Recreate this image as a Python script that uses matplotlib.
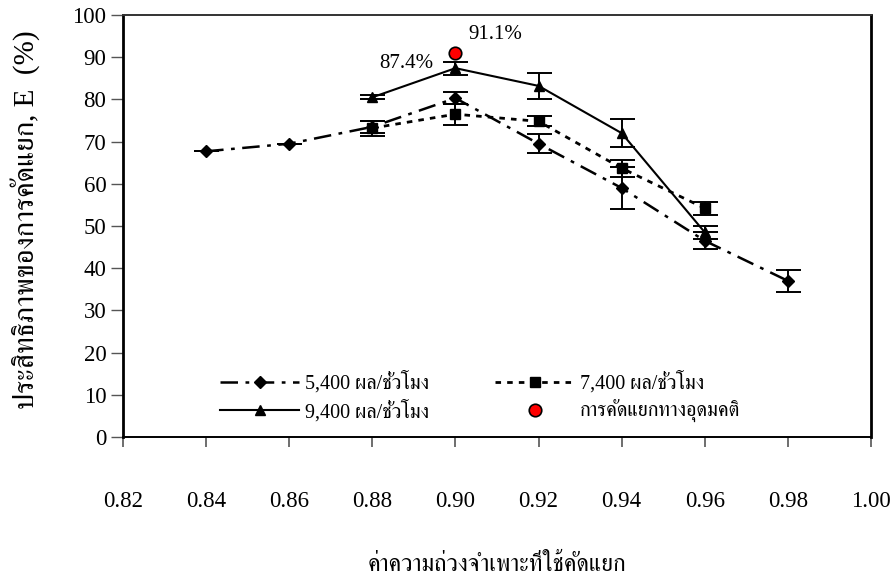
import matplotlib
matplotlib.use("Agg")
import matplotlib.pyplot as plt
from matplotlib.lines import Line2D

plt.rcParams['font.family'] = ['Liberation Serif', 'FreeSerif']

# ---- data ----
sg_5400 = [0.84, 0.86, 0.88, 0.90, 0.92, 0.94, 0.96, 0.98]
eff_5400 = [67.7, 69.5, 73.5, 80.3, 69.5, 59.0, 46.5, 37.0]
err_5400 = [0.0, 0.0, 1.5, 1.5, 2.2, 5.0, 2.0, 2.6]

sg_7400 = [0.88, 0.90, 0.92, 0.94, 0.96]
eff_7400 = [73.2, 76.5, 74.8, 63.7, 54.2]
err_7400 = [1.8, 2.5, 1.2, 2.0, 1.6]

sg_9400 = [0.88, 0.90, 0.92, 0.94, 0.96]
eff_9400 = [80.5, 87.4, 83.2, 72.0, 48.5]
err_9400 = [0.5, 1.5, 3.0, 3.3, 1.5]

sg_ideal = [0.90]
eff_ideal = [91.1]

labels = ["5,400 ผล/ชั่วโมง", "7,400 ผล/ชั่วโมง", "9,400 ผล/ชั่วโมง", "การคัดแยกทางอุดมคติ"]
xticks = [0.82, 0.84, 0.86, 0.88, 0.90, 0.92, 0.94, 0.96, 0.98, 1.00]
yticks = [0, 10, 20, 30, 40, 50, 60, 70, 80, 90, 100]
xlabel = "ค่าความถ่วงจำเพาะที่ใช้คัดแยก"
ylabel = "ประสิทธิภาพของการคัดแยก, E  (%)"

fig = plt.figure(figsize=(8.94, 5.82), dpi=100)
ax = fig.add_axes([123/894, 1-437/582, (871-123)/894, (437-15)/582])

fs = 16.5
eb = dict(capsize=9, elinewidth=1.4, capthick=1.4, ecolor='black')
st1 = dict(color='black', lw=1.8, ls=(0, (7, 3, 1.5, 3)), marker='D', ms=6, mfc='black')
st2 = dict(color='black', lw=2.0, ls=(0, (2, 2.2)), marker='s', ms=7, mfc='black')
st3 = dict(color='black', lw=1.5, ls='-', marker='^', ms=7.5, mfc='black')
st4 = dict(ls='none', marker='o', ms=9, mfc='#ff0000', mec='black', mew=1.2)

ax.errorbar(sg_5400, eff_5400, yerr=err_5400, **st1, **eb)
ax.errorbar(sg_7400, eff_7400, yerr=err_7400, **st2, **eb)
ax.errorbar(sg_9400, eff_9400, yerr=err_9400, **st3, **eb)
ax.plot(sg_ideal, eff_ideal, **st4)

ax.annotate("87.4%", xy=(sg_9400[1], 88.6), xytext=(-16, 0), textcoords='offset points',
            ha='right', va='center', fontsize=15)
ax.annotate("91.1%", xy=(sg_ideal[0], 95.3), xytext=(9, 0), textcoords='offset points',
            ha='left', va='center', fontsize=15)

ax.set_xlim(0.82, 1.00)
ax.set_ylim(0, 100)
ax.set_xticks(xticks)
ax.set_xticklabels(["%.2f" % v for v in xticks], fontsize=fs)
ax.set_yticks(yticks)
ax.set_yticklabels([str(v) for v in yticks], fontsize=fs)
ax.tick_params(axis='x', direction='out', length=7, width=1.2, color='#555555', pad=32)
ax.tick_params(axis='y', direction='out', length=9, width=1.0, color='#555555', pad=3)

for s in ['left', 'right']:
    ax.spines[s].set_linewidth(2.0)
ax.spines['bottom'].set_linewidth(1.4)
ax.spines['top'].set_linewidth(1.4)
ax.spines['top'].set_color('#333333')

ax.set_xlabel(xlabel, fontsize=17, labelpad=30)
ax.set_ylabel(ylabel, fontsize=21)
ax.yaxis.set_label_coords(-0.111, 0.514)

handles = [Line2D([], [], **st1), Line2D([], [], **st3),
           Line2D([], [], **st2), Line2D([], [], **st4)]
ax.legend(handles, [labels[0], labels[2], labels[1], labels[3]],
          ncol=2, frameon=False, fontsize=14.5, loc='center left',
          bbox_to_anchor=(0.13, 0.095), handlelength=3.9, handletextpad=0.3,
          columnspacing=3.3, labelspacing=0.3, borderaxespad=0, borderpad=0)

fig.savefig("out.png", dpi=100)
